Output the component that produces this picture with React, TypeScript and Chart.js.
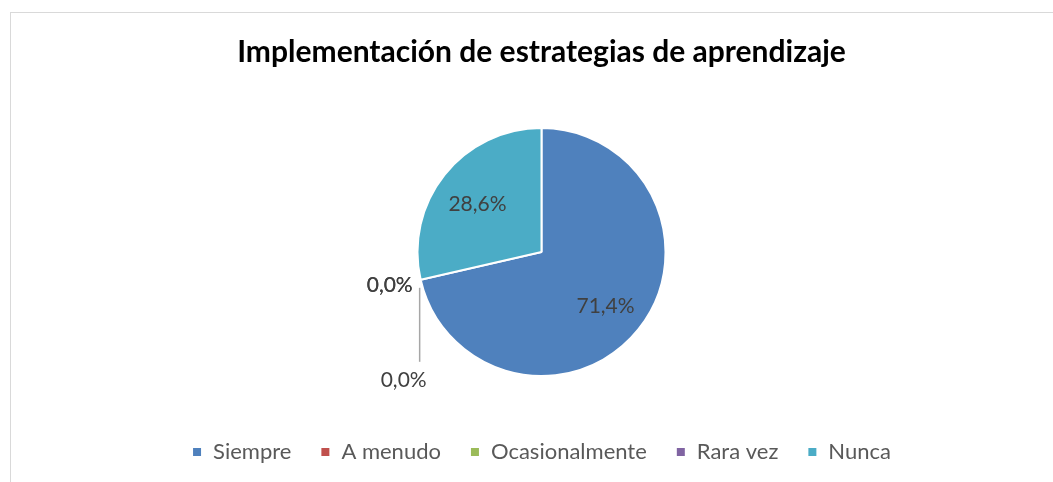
import React, { useEffect, useRef } from "react";
import { Chart, registerables } from "chart.js";

Chart.register(...registerables);

const categories = ["Siempre", "A menudo", "Ocasionalmente", "Rara vez", "Nunca"];
const values = [71.4, 0, 0, 0, 28.6];
const colors = ["#4F81BD", "#C0504D", "#9BBB59", "#8064A2", "#4BACC6"];
const titleText = "Implementación de estrategias de aprendizaje";

const FONT = "Lato, 'Open Sans', sans-serif";

const fmt = (v: number, total: number) =>
  ((v / total) * 100).toFixed(1).replace(".", ",") + "%";

const labelPlugin = {
  id: "sliceLabels",
  afterDatasetsDraw(chart: any) {
    const ctx = chart.ctx as CanvasRenderingContext2D;
    const meta = chart.getDatasetMeta(0);
    const data = chart.data.datasets[0].data as number[];
    const total = data.reduce((a, b) => a + b, 0);
    ctx.save();
    ctx.font = `21px ${FONT}`;
    ctx.fillStyle = "#404040";
    let zeroCount = 0;
    meta.data.forEach((arc: any, i: number) => {
      const p = arc.getProps(["x", "y", "startAngle", "endAngle", "outerRadius"], true);
      const v = data[i];
      const txt = fmt(v, total);
      if (v > 0) {
        const mid = (p.startAngle + p.endAngle) / 2;
        const rr = p.outerRadius * 0.66;
        ctx.textAlign = "center";
        ctx.textBaseline = "middle";
        ctx.fillText(txt, p.x + Math.cos(mid) * rr, p.y + Math.sin(mid) * rr + 3);
      } else {
        const ex = p.x + Math.cos(p.startAngle) * p.outerRadius;
        const ey = p.y + Math.sin(p.startAngle) * p.outerRadius;
        if (zeroCount < 2) {
          ctx.textAlign = "right";
          ctx.textBaseline = "middle";
          ctx.fillText(txt, ex - 8, ey + 5);
        } else {
          ctx.strokeStyle = "#A6A6A6";
          ctx.lineWidth = 1.5;
          ctx.beginPath();
          ctx.moveTo(ex - 1, ey + 8);
          ctx.lineTo(ex - 1, ey + 82);
          ctx.stroke();
          ctx.textAlign = "center";
          ctx.textBaseline = "middle";
          ctx.fillText(txt, ex - 17, ey + 100);
        }
        zeroCount++;
      }
    });
    ctx.restore();
  },
};

export default function App() {
  const ref = useRef<HTMLCanvasElement | null>(null);
  useEffect(() => {
    if (!ref.current) return;
    const chart = new Chart(ref.current, {
      type: "pie",
      data: {
        labels: categories,
        datasets: [
          {
            data: values,
            backgroundColor: colors,
            borderColor: "#FFFFFF",
            borderWidth: 2,
            radius: 124,
          },
        ],
      },
      options: {
        responsive: false,
        animation: false,
        devicePixelRatio: 1,
        layout: { padding: { left: 30, right: 0, top: 0, bottom: 9 } },
        plugins: {
          title: {
            display: true,
            text: titleText,
            color: "#000000",
            font: { family: FONT, size: 30, weight: "bold" },
            padding: { top: 34, bottom: 22 },
          },
          legend: {
            display: true,
            position: "bottom",
            labels: {
              color: "#595959",
              font: { family: FONT, size: 22 },
              boxWidth: 10,
              boxHeight: 10,
              padding: 29,
            },
          },
          tooltip: { enabled: false },
        },
      },
      plugins: [labelPlugin],
    });
    return () => chart.destroy();
  }, []);
  return (
    <div style={{ position: "absolute", left: 0, top: 0, width: 1053, height: 482, overflow: "hidden", background: "#fff" }}>
      <div
        style={{
          position: "absolute",
          left: 10,
          top: 12,
          width: 1100,
          height: 600,
          border: "1px solid #D9D9D9",
          boxSizing: "border-box",
        }}
      />
      <canvas ref={ref} width={1053} height={482} style={{ position: "absolute", left: 0, top: 0 }} />
    </div>
  );
}
